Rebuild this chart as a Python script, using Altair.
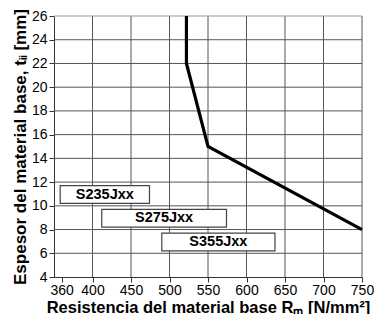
import altair as alt
import pandas as pd

# curve
curve_x = [522, 522, 550, 750]
curve_y = [26, 22, 15, 8]

# steel grade boxes
grades = ["S235Jxx", "S275Jxx", "S355Jxx"]
box_x1 = [358, 412, 490]
box_x2 = [474, 574, 637]
box_y1 = [10.2, 8.2, 6.2]
box_y2 = [11.7, 9.7, 7.7]

x_ticks = [360, 400, 450, 500, 550, 600, 650, 700, 750]
x_grid = [400, 450, 500, 550, 600, 650, 700, 750]
y_ticks = [4, 6, 8, 10, 12, 14, 16, 18, 20, 22, 24, 26]

FONT = "Liberation Sans"

xs = alt.Scale(domain=[350, 750], nice=False, zero=False)
ys = alt.Scale(domain=[4, 26], nice=False, zero=False)

curve_df = pd.DataFrame({"x": curve_x, "y": curve_y, "o": list(range(len(curve_x)))})
box_df = pd.DataFrame({"g": grades, "x1": box_x1, "x2": box_x2, "y1": box_y1, "y2": box_y2})
box_df["xc"] = (box_df.x1 + box_df.x2) / 2
box_df["yc"] = (box_df.y1 + box_df.y2) / 2
xg_df = pd.DataFrame({"x": x_grid})
yg_df = pd.DataFrame({"y": [v for v in y_ticks if v not in (4, 26)]})

XT = "Resistencia del material base Rₘ [N/mm²]"
YT = "Espesor del material base, tᵢᵢ [mm]"

xaxis = alt.Axis(values=x_ticks, grid=False, title=XT, labelOverlap=False, labelFlush=False,
                 labelPadding=1, titlePadding=2, tickSize=5)
yaxis = alt.Axis(values=y_ticks, grid=False, title=YT, labelOverlap=False, labelFlush=False,
                 labelPadding=2, titlePadding=2, tickSize=5)

def X(f):
    return alt.X(f, type="quantitative", scale=xs, axis=xaxis)

def Y(f):
    return alt.Y(f, type="quantitative", scale=ys, axis=yaxis)

hgrid = alt.Chart(yg_df).mark_rule(color="#555555", strokeWidth=1).encode(y=Y("y"))
vgrid = alt.Chart(xg_df).mark_rule(color="#555555", strokeWidth=1).encode(x=X("x"))
top = alt.Chart(pd.DataFrame({"y": [26]})).mark_rule(color="#999999", strokeWidth=1).encode(y=Y("y"))

curve = alt.Chart(curve_df).mark_line(color="black", strokeWidth=3.2).encode(
    x=X("x"), y=Y("y"), order="o:O",
)

boxes = alt.Chart(box_df).mark_rect(fill="white", stroke="#444444", strokeWidth=1.2).encode(
    x=X("x1"), x2="x2:Q", y=Y("y1"), y2="y2:Q",
)
labels = alt.Chart(box_df).mark_text(font=FONT, fontSize=14.5, fontWeight="bold", color="black").encode(
    x=X("xc"), y=Y("yc"), text="g:N"
)

chart = alt.layer(hgrid, vgrid, top, boxes, labels, curve).properties(
    width=308, height=261,
    autosize=alt.AutoSizeParams(type="none"),
    padding={"left": 46, "top": 8, "right": 12, "bottom": 37},
).configure_view(stroke=None).configure_axis(
    labelFont=FONT, labelFontSize=14, labelColor="black", labelOverlap=False,
    titleFont=FONT, titleFontWeight="bold", titleColor="black",
    domainColor="#333333", tickColor="#333333",
).configure_axisX(titleFontSize=16.5).configure_axisY(titleFontSize=17)

chart.save("out.html", embed_options={"renderer": "svg", "actions": False})
